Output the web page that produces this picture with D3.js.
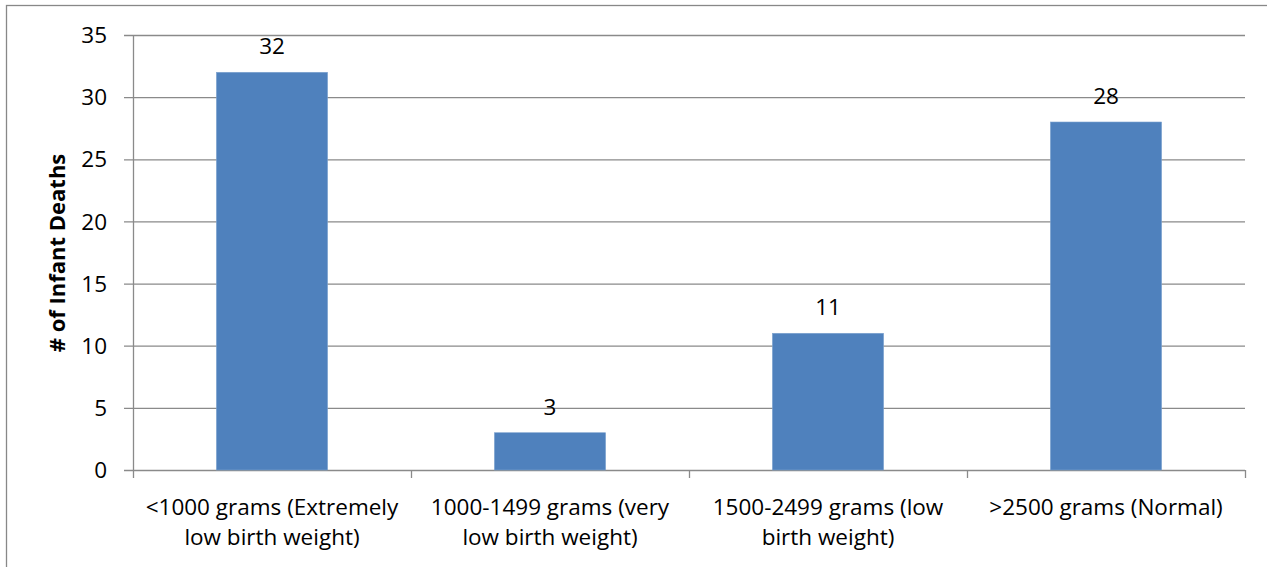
<!DOCTYPE html>
<html><head><meta charset="utf-8">
<script src="https://cdn.jsdelivr.net/npm/d3@7"></script>
<style>body{margin:0;background:#fff}svg{display:block}text{font-family:"Open Sans",Lato,sans-serif;fill:#000}</style>
</head><body>
<svg id="c" width="1267" height="567"></svg>
<script>
const categories = [
  ["<1000 grams (Extremely", "low birth weight)"],
  ["1000-1499 grams (very", "low birth weight)"],
  ["1500-2499 grams (low", "birth weight)"],
  [">2500 grams (Normal)"]
];
const values = [32, 3, 11, 28];
const yTicks = [0, 5, 10, 15, 20, 25, 30, 35];
const yTitle = "# of Infant Deaths";

(function () {
const svg = d3.select("#c");
const pLeft = 133, pRight = 1245, pTop = 35, pBottom = 470;
const fs = 22.5;

svg.append("rect").attr("x", 6.5).attr("y", 5.5).attr("width", 1300).attr("height", 600)
  .attr("fill", "none").attr("stroke", "#888").attr("stroke-width", 1.3);

const x = d3.scaleBand().domain(d3.range(categories.length)).range([pLeft, pRight]).paddingInner(0).paddingOuter(0);
const y = d3.scaleLinear().domain([0, 35]).range([pBottom, pTop]);

svg.append("g").selectAll("line").data(yTicks).join("line")
  .attr("x1", pLeft - 9).attr("x2", pRight).attr("y1", d => y(d) + 0.5).attr("y2", d => y(d) + 0.5)
  .attr("stroke", "#8a8a8a").attr("stroke-width", 1.3);

svg.append("line").attr("x1", pLeft + 0.5).attr("x2", pLeft + 0.5).attr("y1", pTop).attr("y2", pBottom + 8)
  .attr("stroke", "#8a8a8a").attr("stroke-width", 1.3);

svg.append("g").selectAll("line").data(d3.range(1, categories.length + 1)).join("line")
  .attr("x1", i => pLeft + i * x.bandwidth() + 0.5).attr("x2", i => pLeft + i * x.bandwidth() + 0.5)
  .attr("y1", pBottom).attr("y2", pBottom + 8)
  .attr("stroke", "#8a8a8a").attr("stroke-width", 1.3);

svg.append("g").selectAll("text").data(yTicks).join("text")
  .attr("x", pLeft - 26).attr("y", d => y(d)).attr("dy", "0.36em")
  .attr("text-anchor", "end").attr("font-size", fs).text(d => d);

const bw = x.bandwidth() * 0.4;
svg.append("g").selectAll("rect").data(values).join("rect")
  .attr("x", (d, i) => x(i) + (x.bandwidth() - bw) / 2)
  .attr("width", bw)
  .attr("y", d => y(d)).attr("height", d => y(0) - y(d))
  .attr("fill", "#4F81BD").attr("stroke", "#7ea3d0").attr("stroke-width", 0.6);

svg.append("g").selectAll("text").data(values).join("text")
  .attr("x", (d, i) => x(i) + x.bandwidth() / 2)
  .attr("y", d => y(d) - 26)
  .attr("dy", "0.36em")
  .attr("text-anchor", "middle").attr("font-size", fs).text(d => d);

const cl = svg.append("g").selectAll("text").data(categories).join("text")
  .attr("x", (d, i) => x(i) + x.bandwidth() / 2)
  .attr("y", 507).attr("dy", "0.36em").attr("text-anchor", "middle").attr("font-size", fs);
cl.selectAll("tspan").data(d => d).join("tspan")
  .attr("x", function () { return d3.select(this.parentNode).attr("x"); })
  .attr("dy", (d, j) => j === 0 ? "0.36em" : 30).text(d => d);

svg.append("text").attr("transform", `translate(65,253) rotate(-90)`)
  .attr("text-anchor", "middle").attr("font-size", 22).attr("font-weight", "bold").text(yTitle);
})();
</script>
</body></html>
